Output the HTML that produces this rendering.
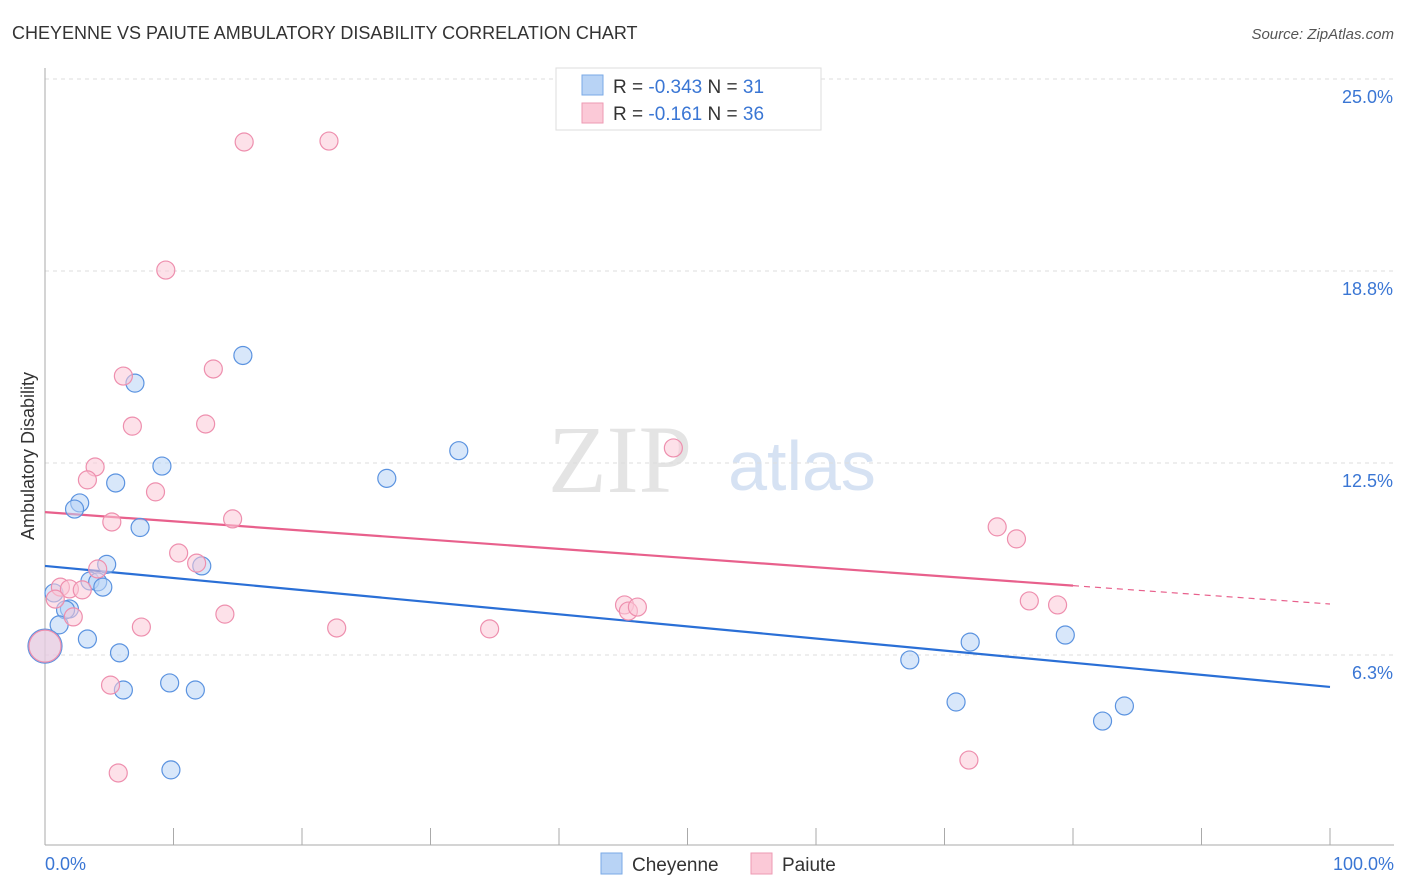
<!DOCTYPE html>
<html><head><meta charset="utf-8"><style>
body{margin:0;background:#fff;font-family:"Liberation Sans",sans-serif;}
svg{display:block}
</style></head><body>
<svg id="chart" width="1406" height="892">
<text x="12" y="39" font-size="18" fill="#333">CHEYENNE VS PAIUTE AMBULATORY DISABILITY CORRELATION CHART</text>
<text x="1394" y="39" font-size="15" fill="#555" font-style="italic" text-anchor="end">Source: ZipAtlas.com</text>
<text transform="translate(34,456) rotate(-90)" font-size="18" fill="#333" text-anchor="middle">Ambulatory Disability</text>
<text x="620" y="492" font-size="96" fill="#e4e4e4" font-family="Liberation Serif,serif" text-anchor="middle">ZIP</text>
<text x="802" y="490" font-size="70" fill="#d6e2f3" text-anchor="middle">atlas</text>
<g id="grid"></g><g id="axes"></g><g id="lines"></g><g id="points"></g>
<g>
<rect x="556" y="68" width="265" height="62" fill="#fff" stroke="#ddd"/>
<rect x="582" y="75" width="21" height="20" fill="#b8d3f5" stroke="#7aaae6"/>
<text x="613" y="93" font-size="19" fill="#333">R = <tspan fill="#3a76d4">-0.343</tspan>    N =  <tspan fill="#3a76d4">31</tspan></text>
<rect x="582" y="103" width="21" height="20" fill="#fbc9d7" stroke="#ee9ab3"/>
<text x="613" y="120" font-size="19" fill="#333">R =   <tspan fill="#3a76d4">-0.161</tspan>   N = <tspan fill="#3a76d4">36</tspan></text>
</g>
<g>
<rect x="601" y="853" width="21" height="21" fill="#b8d3f5" stroke="#7aaae6"/>
<text x="632" y="871" font-size="19" fill="#333">Cheyenne</text>
<rect x="751" y="853" width="21" height="21" fill="#fbc9d7" stroke="#ee9ab3"/>
<text x="782" y="871" font-size="19" fill="#333">Paiute</text>
</g>
</svg>
<script>
const yTicks=[25,18.75,12.5,6.25];
const yTickLabels=["25.0%","18.8%","12.5%","6.3%"];
const xTickLabels=["0.0%","100.0%"];
const cheyX=[15.4,7.0,32.2,9.1,26.6,5.5,2.7,2.3,7.4,4.8,12.2,3.5,4.1,4.5,0.7,1.9,1.6,1.1,3.3,0,5.8,9.7,6.1,11.7,9.8,67.3,72.0,79.4,70.9,82.3,84.0];
const cheyY=[16.0,15.1,12.9,12.4,12.0,11.85,11.2,11.0,10.4,9.2,9.15,8.66,8.63,8.46,8.27,7.75,7.72,7.23,6.77,6.54,6.32,5.34,5.11,5.11,2.51,6.09,6.67,6.9,4.72,4.1,4.59];
const paiX=[15.5,22.1,9.4,6.1,13.1,6.8,12.5,3.9,48.9,3.3,8.6,5.2,14.6,10.4,11.8,4.1,1.2,1.9,2.9,0.8,2.2,7.5,14.0,22.7,34.6,45.1,45.4,46.1,5.1,5.7,74.1,75.6,76.6,78.8,71.9,0];
const paiY=[22.95,22.98,18.78,15.33,15.56,13.7,13.77,12.37,12.99,11.95,11.56,10.58,10.68,9.57,9.24,9.05,8.46,8.4,8.37,8.07,7.49,7.16,7.58,7.13,7.1,7.88,7.68,7.81,5.27,2.41,10.42,10.03,8.01,7.88,2.83,6.54];
const cheyTrend=[9.15,5.21];
const paiTrend=[10.9,7.91];
const paiSolidEnd=80;
const X0=45,X1=1330,YTOP=79,PX_PER=30.72;
const xs=v=>X0+v*(X1-X0)/100;
const ys=v=>YTOP+(25-v)*PX_PER;
const NS="http://www.w3.org/2000/svg";
function mk(p,t,a){const e=document.createElementNS(NS,t);for(const k in a)e.setAttribute(k,a[k]);p.appendChild(e);return e;}
const grid=document.getElementById('grid'),axes=document.getElementById('axes'),lines=document.getElementById('lines'),pts=document.getElementById('points');
yTicks.forEach((t,i)=>{
 const l=mk(grid,'line',{x1:X0,x2:1394,y1:ys(t),y2:ys(t),stroke:'#ddd','stroke-dasharray':'4,4'});
 
 
 const tx=mk(grid,'text',{x:1393,y:ys(t)+24,'font-size':18,fill:'#3a76d4','text-anchor':'end'});
 tx.textContent=yTickLabels[i];
 
 
});
const ax=mk(axes,'line',{x1:X0,x2:1394,y1:845,y2:845,stroke:'#aaa'});


const ay=mk(axes,'line',{x1:X0,x2:X0,y1:68,y2:845,stroke:'#aaa'});


for(let i=0;i<=10;i++){
 const t=mk(axes,'line',{x1:xs(i*10),x2:xs(i*10),y1:828,y2:845,stroke:'#aaa'});
 
 
}
[[0,'start',45],[100,'end',1394]].forEach((d,i)=>{
 const t=mk(axes,'text',{x:d[2],y:870,'font-size':18,fill:'#3a76d4','text-anchor':d[1]});
 t.textContent=xTickLabels[i];
 
 
});
function dot(x,y,fill,stroke,r,name){
 const c=mk(pts,'circle',{cx:xs(x),cy:ys(y),r:r,fill:fill,'fill-opacity':0.55,stroke:stroke,'stroke-width':1.2});
 
 
}
cheyX.forEach((x,i)=>dot(x,cheyY[i],'#b8d3f5','#5b93e0',x===0?17:9,'cheyenne-point'));
paiX.forEach((x,i)=>dot(x,paiY[i],'#fbc9d7','#ee8fae',x===0?16:9,'paiute-point'));
const lb=mk(lines,'line',{x1:xs(0),y1:ys(cheyTrend[0]),x2:xs(100),y2:ys(cheyTrend[1]),stroke:'#2a6fd6','stroke-width':2.2});


const pe=paiTrend[0]+(paiTrend[1]-paiTrend[0])*paiSolidEnd/100;
const lp=mk(lines,'line',{x1:xs(0),y1:ys(paiTrend[0]),x2:xs(paiSolidEnd),y2:ys(pe),stroke:'#e8608c','stroke-width':2.2});


const lpd=mk(lines,'line',{x1:xs(paiSolidEnd),y1:ys(pe),x2:xs(100),y2:ys(paiTrend[1]),stroke:'#e8608c','stroke-width':1.2,'stroke-dasharray':'6,5'});


</script>
</body></html>
